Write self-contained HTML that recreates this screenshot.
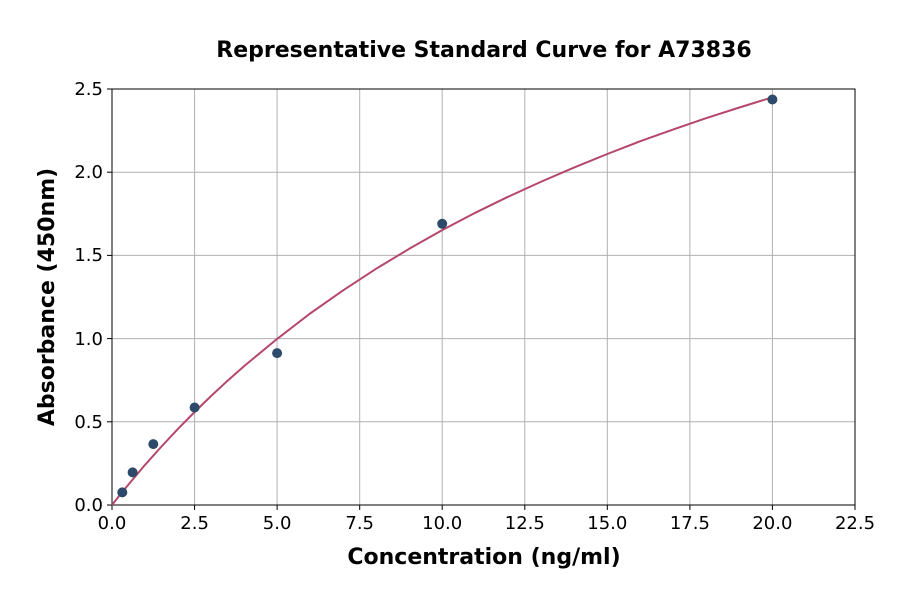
<!DOCTYPE html>
<html><head><style>body{margin:0;background:#fff}</style></head><body>
<svg width="900" height="594" xmlns="http://www.w3.org/2000/svg" font-family="'DejaVu Sans','Liberation Sans',sans-serif">
<rect width="900" height="594" fill="#fff"/>
<g stroke="#b0b0b0" stroke-width="1">
<line x1="194.6" y1="89" x2="194.6" y2="505"/><line x1="277.1" y1="89" x2="277.1" y2="505"/><line x1="359.7" y1="89" x2="359.7" y2="505"/><line x1="442.2" y1="89" x2="442.2" y2="505"/><line x1="524.8" y1="89" x2="524.8" y2="505"/><line x1="607.3" y1="89" x2="607.3" y2="505"/><line x1="689.9" y1="89" x2="689.9" y2="505"/><line x1="772.4" y1="89" x2="772.4" y2="505"/>
<line x1="112" y1="421.8" x2="855" y2="421.8"/><line x1="112" y1="338.6" x2="855" y2="338.6"/><line x1="112" y1="255.4" x2="855" y2="255.4"/><line x1="112" y1="172.2" x2="855" y2="172.2"/>
</g>
<rect x="112" y="89" width="743" height="416" fill="none" stroke="#000" stroke-width="1"/>
<g stroke="#000">
<line x1="112" y1="505" x2="112" y2="510"/><line x1="194.6" y1="505" x2="194.6" y2="510"/><line x1="277.1" y1="505" x2="277.1" y2="510"/><line x1="359.7" y1="505" x2="359.7" y2="510"/><line x1="442.2" y1="505" x2="442.2" y2="510"/><line x1="524.8" y1="505" x2="524.8" y2="510"/><line x1="607.3" y1="505" x2="607.3" y2="510"/><line x1="689.9" y1="505" x2="689.9" y2="510"/><line x1="772.4" y1="505" x2="772.4" y2="510"/><line x1="855" y1="505" x2="855" y2="510"/>
<line x1="107" y1="505" x2="112" y2="505"/><line x1="107" y1="421.8" x2="112" y2="421.8"/><line x1="107" y1="338.6" x2="112" y2="338.6"/><line x1="107" y1="255.4" x2="112" y2="255.4"/><line x1="107" y1="172.2" x2="112" y2="172.2"/><line x1="107" y1="89" x2="112" y2="89"/>
</g>
<g font-size="18" text-anchor="middle" fill="#000">
<text x="112" y="529">0.0</text><text x="194.6" y="529">2.5</text><text x="277.1" y="529">5.0</text><text x="359.7" y="529">7.5</text><text x="442.2" y="529">10.0</text><text x="524.8" y="529">12.5</text><text x="607.3" y="529">15.0</text><text x="689.9" y="529">17.5</text><text x="772.4" y="529">20.0</text><text x="855" y="529">22.5</text>
</g>
<g font-size="18" text-anchor="end" fill="#000">
<text x="103" y="511">0.0</text><text x="103" y="428">0.5</text><text x="103" y="345">1.0</text><text x="103" y="261">1.5</text><text x="103" y="178">2.0</text><text x="103" y="95">2.5</text>
</g>
<text x="484" y="57" font-size="22" font-weight="bold" text-anchor="middle">Representative Standard Curve for A73836</text>
<text x="484" y="564" font-size="22" font-weight="bold" text-anchor="middle">Concentration (ng/ml)</text>
<text transform="translate(54,297) rotate(-90)" font-size="22" font-weight="bold" text-anchor="middle">Absorbance (450nm)</text>
<polyline fill="none" stroke="#b5476b" stroke-width="2" stroke-linejoin="round" points="112,505 120.3,494.5 128.5,484.5 136.8,474.6 145,464.9 161.5,446.5 178,428.8 194.6,412 211.1,396 227.6,380.7 244.1,366.1 277.1,338.9 310.1,313.5 343.2,290.3 376.2,268.7 409.2,248.8 442.2,230.1 475.2,212.8 508.2,196.7 541.3,181.6 574.3,167.4 607.3,154 640.3,141.2 673.4,129.4 706.4,118.1 739.4,107.5 772.4,97.3"/>
<g fill="#2d4a6b">
<circle cx="122.3" cy="492.4" r="5"/><circle cx="132.6" cy="472.4" r="5"/><circle cx="153.3" cy="444.1" r="5"/><circle cx="194.6" cy="407.5" r="5"/><circle cx="277.1" cy="353.1" r="5"/><circle cx="442.2" cy="223.8" r="5"/><circle cx="772.4" cy="99.5" r="5"/>
</g>
</svg>
</body></html>
